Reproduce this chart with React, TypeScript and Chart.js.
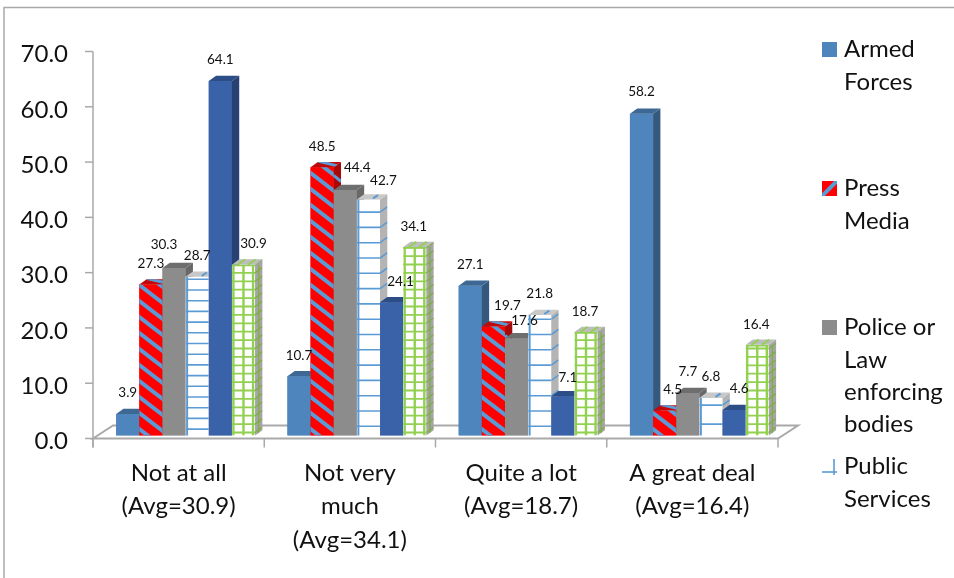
import React, { useEffect, useRef } from "react";
import { Chart, registerables } from "chart.js";

Chart.register(...registerables);

const categories = [
  ["Not at all", "(Avg=30.9)"],
  ["Not very", "much", "(Avg=34.1)"],
  ["Quite a lot", "(Avg=18.7)"],
  ["A great deal", "(Avg=16.4)"],
];

const armedForces = [3.9, 10.7, 27.1, 58.2];
const pressMedia = [27.3, 48.5, 19.7, 4.5];
const policeLaw = [30.3, 44.4, 17.6, 7.7];
const publicServices = [28.7, 42.7, 21.8, 6.8];
const darkBlueSeries = [64.1, 24.1, 7.1, 4.6];
const greenSeries = [30.9, 34.1, 18.7, 16.4];

const FONT = "Lato, 'Open Sans', sans-serif";
const TEXT = "#111111";
const AXIS = "#a9a9a9";
const STRIPE = "#5b9bd5";
const GRID_GREEN = "#92d050";

// Depth of the extruded bars.
const DX = 7.3;
const DY = 5.3;
// The axis frame sits slightly left of and below the plane the bars stand on.
const AXIS_DX = -7;
const AXIS_DY = 3;

// Per-label nudges so value labels clear neighbouring columns.
const nudgeX = [
  [0, 0, 0, 0],
  [0, 0, 14, 8],
  [-10, 12, 8, 0],
  [0, 15, 0, 0],
  [0, 9, 5, 5],
  [10, -1, -1, -1],
];
const nudgeY = [
  [-21, -21, -21, -22],
  [-21, -21, -21, -21],
  [-23, -22, -18, -21],
  [-21, -19, -21, -21],
  [-21, -21, -19, -21],
  [-21, -20, -20, -20],
];
const publicRowHeight = [10.7, 15.3, 15.3, 19];
const GREEN_ROW = 8.4;

type Face = { side: string; top: string };
const faces: Face[] = [
  { side: "#35587f", top: "#3d6893" },
  { side: "#a80808", top: "#c00a0a" },
  { side: "#686868", top: "#6e6e6e" },
  { side: "#b4b4b4", top: "#c8c8c8" },
  { side: "#274272", top: "#2c4d86" },
  { side: "#a5a5a5", top: "#bdbdbd" },
];

function poly(ctx: CanvasRenderingContext2D, pts: number[][], fill: string) {
  ctx.beginPath();
  pts.forEach((p, i) => (i ? ctx.lineTo(p[0], p[1]) : ctx.moveTo(p[0], p[1])));
  ctx.closePath();
  ctx.fillStyle = fill;
  ctx.fill();
}

function line(ctx: CanvasRenderingContext2D, x1: number, y1: number, x2: number, y2: number) {
  ctx.beginPath();
  ctx.moveTo(x1, y1);
  ctx.lineTo(x2, y2);
  ctx.stroke();
}

function clipRect(ctx: CanvasRenderingContext2D, x: number, y: number, w: number, h: number) {
  ctx.beginPath();
  ctx.rect(x, y, w, h);
  ctx.clip();
}

function clipPoly(ctx: CanvasRenderingContext2D, pts: number[][]) {
  ctx.beginPath();
  pts.forEach((p, i) => (i ? ctx.lineTo(p[0], p[1]) : ctx.moveTo(p[0], p[1])));
  ctx.closePath();
  ctx.clip();
}

function drawColumnDetail(ctx: CanvasRenderingContext2D, ds: number, cat: number, x: number, y: number, w: number, base: number) {
  const h = base - y;
  const f = faces[ds];
  const sidePts = [[x + w, y], [x + w + DX, y - DY], [x + w + DX, base - DY], [x + w, base]];
  const topPts = [[x, y], [x + DX, y - DY], [x + w + DX, y - DY], [x + w, y]];
  poly(ctx, sidePts, f.side);
  poly(ctx, topPts, f.top);

  ctx.save();
  if (ds === 1) {
    // Diagonal stripes on the front, side and top faces.
    ctx.strokeStyle = STRIPE;
    ctx.lineWidth = 4;
    ctx.save();
    clipRect(ctx, x, y, w, h);
    for (let k = base + 8; k > y - w - 16; k -= 16) line(ctx, x - 2, k, x + w + 2, k + w * 0.9);
    ctx.restore();
    ctx.lineWidth = 3;
    ctx.save();
    clipPoly(ctx, topPts);
    line(ctx, x + 8, y - 6, x + w + 6, y - 1);
    ctx.restore();
    ctx.save();
    clipPoly(ctx, sidePts);
    for (let k = base - 4; k > y + 4; k -= 16) line(ctx, x + w, k, x + w + DX, k + 6);
    ctx.restore();
  }
  if (ds === 3) {
    // Horizontal rules and one vertical rule on a white column.
    const step = publicRowHeight[cat];
    ctx.strokeStyle = STRIPE;
    ctx.lineWidth = 1.6;
    ctx.save();
    clipRect(ctx, x, y, w, h);
    for (let k = base - step * 0.6; k > y + 1; k -= step) line(ctx, x, k, x + w, k);
    ctx.restore();
    ctx.save();
    clipPoly(ctx, sidePts);
    for (let k = base - step * 0.6; k > y + 1; k -= step) line(ctx, x + w, k, x + w + DX, k - DY);
    ctx.restore();
    ctx.lineWidth = 2;
    line(ctx, x + 1.5, y, x + 1.5, base);
    line(ctx, x + w - 7, y - 1, x + w - 2, y - DY + 1);
  }
  if (ds === 5) {
    // Dense green lattice.
    ctx.strokeStyle = GRID_GREEN;
    ctx.lineWidth = 1.8;
    ctx.save();
    clipRect(ctx, x, y, w, h);
    for (let k = base - 3; k > y; k -= GREEN_ROW) line(ctx, x, k, x + w, k);
    line(ctx, x, y + 0.8, x + w, y + 0.8);
    ctx.lineWidth = 2.4;
    [1.5, w / 2, w - 2].forEach((o) => line(ctx, x + o, y, x + o, base));
    ctx.restore();
    ctx.save();
    clipPoly(ctx, sidePts);
    ctx.strokeStyle = "#7fae45";
    ctx.lineWidth = 1.3;
    for (let k = base - 3; k > y - 4; k -= GREEN_ROW) line(ctx, x + w, k, x + w + DX, k - DY);
    line(ctx, x + w + DX / 2, y, x + w + DX / 2, base);
    ctx.restore();
    ctx.lineWidth = 1.8;
    line(ctx, x + w * 0.25, y, x + w * 0.25 + DX, y - DY);
    line(ctx, x + w * 0.7, y, x + w * 0.7 + DX, y - DY);
  }
  ctx.restore();
}

const legendEntries = [
  { lines: ["Armed", "Forces"], y: 42 },
  { lines: ["Press", "Media"], y: 181 },
  { lines: ["Police or", "Law", "enforcing", "bodies"], y: 320 },
  { lines: ["Public", "Services"], y: 459 },
];

const extrudePlugin = {
  id: "extrude",
  beforeDraw(chart: any) {
    const { ctx } = chart;
    ctx.save();
    ctx.strokeStyle = AXIS;
    ctx.lineWidth = 1.5;
    ctx.beginPath();
    ctx.moveTo(4, 578);
    ctx.lineTo(4, 7.5);
    ctx.lineTo(954, 7.5);
    ctx.stroke();
    ctx.restore();
  },
  beforeDatasetsDraw(chart: any) {
    const { ctx, scales } = chart;
    const yScale = scales.y;
    const xScale = scales.x;
    const zero = yScale.getPixelForValue(0) + AXIS_DY;
    const top = yScale.getPixelForValue(70) + AXIS_DY;
    const left = xScale.left + AXIS_DX;
    const right = xScale.right + AXIS_DX;
    ctx.save();
    ctx.strokeStyle = AXIS;
    ctx.lineWidth = 2;
    // Floor of the plot.
    ctx.beginPath();
    ctx.moveTo(left, zero);
    ctx.lineTo(left + 20, zero - 13);
    ctx.lineTo(right + 20, zero - 13);
    ctx.lineTo(right, zero);
    ctx.closePath();
    ctx.stroke();
    // Value axis with its tick marks.
    ctx.lineWidth = 1.5;
    line(ctx, left, top, left, zero + 9);
    yScale.ticks.forEach((t: any) => {
      const py = yScale.getPixelForValue(t.value) + AXIS_DY;
      line(ctx, left - 8, py, left, py);
    });
    // Category boundaries below the floor.
    for (let i = 0; i <= categories.length; i++) {
      const px = left + ((right - left) * i) / categories.length;
      line(ctx, px, zero, px, zero + 9);
    }
    ctx.restore();
  },
  afterDatasetsDraw(chart: any) {
    const { ctx } = chart;
    // Repaint columns left to right so each one covers its neighbour's side face.
    chart.data.datasets.forEach((_: any, i: number) => {
      chart.getDatasetMeta(i).data.forEach((bar: any, cat: number) => {
        bar.draw(ctx);
        const p = bar.getProps(["x", "y", "base", "width"], true);
        drawColumnDetail(ctx, i, cat, p.x - p.width / 2, p.y, p.width, p.base);
      });
    });

    ctx.save();
    ctx.textAlign = "center";
    ctx.textBaseline = "middle";
    ctx.fillStyle = TEXT;
    ctx.font = `13.5px ${FONT}`;
    chart.data.datasets.forEach((ds: any, i: number) => {
      chart.getDatasetMeta(i).data.forEach((bar: any, cat: number) => {
        const p = bar.getProps(["x", "y"], true);
        ctx.fillText(ds.data[cat].toFixed(1), p.x + nudgeX[i][cat], p.y + nudgeY[i][cat]);
      });
    });

    // Legend with wrapped entries, listing the first four series.
    const sx = 822;
    const tx = 844;
    const lh = 32.3;
    ctx.textAlign = "left";
    ctx.font = `24px ${FONT}`;
    legendEntries.forEach((e, i) => {
      if (i === 0 || i === 2) {
        ctx.fillStyle = chart.data.datasets[i].backgroundColor;
        ctx.fillRect(sx, e.y, 15, 15);
      } else if (i === 1) {
        ctx.save();
        ctx.fillStyle = "#ff0000";
        ctx.fillRect(sx, e.y, 15, 15);
        clipRect(ctx, sx, e.y, 15, 15);
        ctx.strokeStyle = STRIPE;
        ctx.lineWidth = 4;
        line(ctx, sx - 1, e.y + 16, sx + 16, e.y - 1);
        ctx.restore();
      } else {
        ctx.save();
        ctx.strokeStyle = STRIPE;
        ctx.lineWidth = 1.6;
        line(ctx, sx, e.y + 13, sx + 15, e.y + 13);
        line(ctx, sx + 12, e.y, sx + 12, e.y + 16);
        ctx.restore();
      }
      ctx.fillStyle = TEXT;
      e.lines.forEach((t, k) => ctx.fillText(t, tx, e.y + 7.5 + k * lh));
    });
    ctx.restore();
  },
};

export default function App() {
  const ref = useRef<HTMLCanvasElement>(null);

  useEffect(() => {
    const series = [armedForces, pressMedia, policeLaw, publicServices, darkBlueSeries, greenSeries];
    const fills = ["#4f85bd", "#ff0000", "#8c8c8c", "#ffffff", "#3a62a9", "#ffffff"];
    const names = ["Armed Forces", "Press Media", "Police or Law enforcing bodies", "Public Services", "", ""];
    const chart = new Chart(ref.current!, {
      type: "bar",
      data: {
        labels: categories as any,
        datasets: series.map((data, i) => ({
          label: names[i],
          data,
          backgroundColor: fills[i],
          borderWidth: 0,
          barPercentage: 1,
          categoryPercentage: 0.811,
        })),
      },
      options: {
        animation: false,
        responsive: false,
        devicePixelRatio: 1,
        layout: { padding: { left: 0, right: 169, top: 48.5, bottom: 0 } },
        plugins: { legend: { display: false }, tooltip: { enabled: false }, title: { display: false } },
        scales: {
          x: {
            grid: { display: false },
            border: { display: false },
            afterFit: (s: any) => { s.height = 142.5; },
            ticks: {
              color: TEXT,
              padding: 13,
              labelOffset: AXIS_DX,
              maxRotation: 0,
              autoSkip: false,
              font: { family: FONT, size: 24, lineHeight: 33.4 / 24 },
            },
          },
          y: {
            min: 0,
            max: 70,
            grid: { display: false },
            border: { display: false },
            afterFit: (s: any) => { s.width = 100; },
            ticks: {
              stepSize: 10,
              color: TEXT,
              padding: 24,
              labelOffset: 6,
              font: { family: FONT, size: 24 },
              callback: (v: any) => Number(v).toFixed(1),
            },
          },
        },
      },
      plugins: [extrudePlugin],
    });
    return () => chart.destroy();
  }, []);

  return (
    <canvas
      ref={ref}
      width={954}
      height={578}
      style={{ position: "absolute", left: 0, top: 0, display: "block" }}
    />
  );
}
